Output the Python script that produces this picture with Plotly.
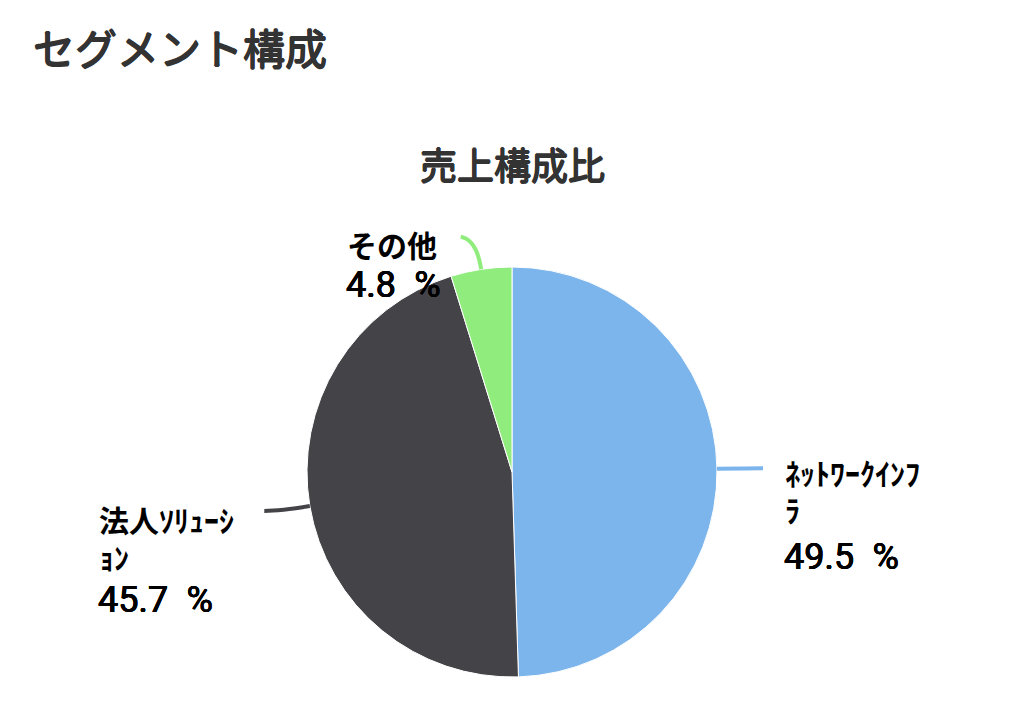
import math
import plotly.graph_objects as go

# ---- data ----
categories = ["ﾈｯﾄﾜｰｸｲﾝﾌﾗ", "法人ｿﾘｭｰｼｮﾝ", "その他"]
label_lines = [["ﾈｯﾄﾜｰｸｲﾝﾌ", "ﾗ"], ["法人ｿﾘｭｰｼ", "ｮﾝ"], ["その他"]]
values = [49.5, 45.7, 4.8]
colors = ["#7cb5ec", "#434348", "#90ed7d"]
chart_title = "セグメント構成"
pie_title = "売上構成比"

# ---- layout constants (page pixels) ----
OFF = 8                    # body margin of the html page
W, H = 1024 - 2 * OFF, 703 - 2 * OFF
CX, CY, R = 512, 472, 205
# label block: left x, first line centre y, percent line centre y
label_pos = [(783, 472, 557), (97, 519, 600), (345, 244, 285)]
LINE_GAP = 37
JP = "Noto Sans CJK JP"
THICK = "{w}px 0 0 {c}, -{w}px 0 0 {c}, 0 {w}px 0 {c}, 0 -{w}px 0 {c}"

fig = go.Figure()
fig.add_trace(go.Pie(
    labels=categories, values=values, sort=False, direction="clockwise",
    rotation=0, marker=dict(colors=colors, line=dict(color="#ffffff", width=1)),
    textinfo="none", hoverinfo="label+percent", showlegend=False,
    domain=dict(x=[(CX - R - OFF) / W, (CX + R - OFF) / W],
                y=[(OFF + H - (CY + R)) / H, (OFF + H - (CY - R)) / H]),
))

shapes = []
annotations = []
total = sum(values)
cum = 0.0
for i, v in enumerate(values):
    mid = (cum + v / 2) / total * 2 * math.pi
    cum += v
    dx, dy = math.sin(mid), -math.cos(mid)
    p0 = (CX + R * dx, CY + R * dy)
    p1 = (CX + (R + 30) * dx, CY + (R + 30) * dy)
    side = 1 if dx >= 0 else -1
    p2 = (p1[0] + side * 16, p1[1] - (3 if abs(dy) > 0.9 else 0))
    shapes.append(dict(
        type="path", xref="x", yref="y",
        path=f"M {p0[0]:.1f},{p0[1]:.1f} Q {p1[0]:.1f},{p1[1]:.1f} {p2[0]:.1f},{p2[1]:.1f}",
        line=dict(color=colors[i], width=4), layer="above"))
    lx, ly, py = label_pos[i]
    for k, line in enumerate(label_lines[i]):
        annotations.append(dict(
            x=lx, y=ly + k * LINE_GAP, xref="x", yref="y", xanchor="left", yanchor="middle",
            text=line, showarrow=False, align="left",
            font=dict(family=JP, size=30, color="#000000", weight="bold")))
    annotations.append(dict(
        x=lx - 1, y=py, xref="x", yref="y", xanchor="left", yanchor="middle",
        text=f"{v}\u2002%", showarrow=False, align="left",
        font=dict(family="Roboto, Liberation Sans, " + JP, size=36, color="#000000",
                  shadow=THICK.format(w=0.4, c="#000000"))))

annotations.append(dict(
    x=31, y=46, xref="x", yref="y", xanchor="left", yanchor="middle",
    text=chart_title, showarrow=False,
    font=dict(family=JP, size=42, color="#333333", shadow=THICK.format(w=0.8, c="#333333"))))
annotations.append(dict(
    x=512, y=164, xref="x", yref="y", xanchor="center", yanchor="middle",
    text=pie_title, showarrow=False,
    font=dict(family=JP, size=37, color="#333333", shadow=THICK.format(w=0.8, c="#333333"))))

fig.update_layout(
    width=W, height=H, margin=dict(l=0, r=0, t=0, b=0),
    paper_bgcolor="#ffffff", plot_bgcolor="rgba(0,0,0,0)",
    xaxis=dict(range=[OFF, OFF + W], visible=False, fixedrange=True),
    yaxis=dict(range=[OFF + H, OFF], visible=False, fixedrange=True),
    shapes=shapes, annotations=annotations,
)
fig.write_html("out.html")
